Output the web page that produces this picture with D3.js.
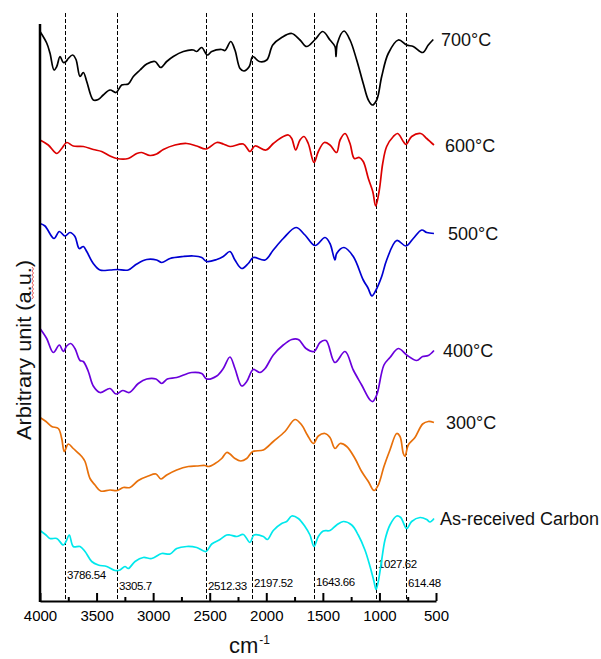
<!DOCTYPE html>
<html>
<head>
<meta charset="utf-8">
<script src="https://cdn.jsdelivr.net/npm/d3@7"></script>
<style>
  html, body { margin: 0; padding: 0; background: #fff; }
  svg { display: block; font-family: "Liberation Sans", Arial, sans-serif; }
</style>
</head>
<body>
<svg id="chart" width="601" height="659"></svg>
<script>
// FTIR spectra, stacked with vertical offsets (wavenumber in cm-1, intensity in a.u.)
const seriesNames = ["700°C", "600°C", "500°C", "400°C", "300°C", "As-received Carbon"];

const s700 = [[4000,113.9],[3941,111.6],[3912,109.6],[3876,106.2],[3852,106.9],[3823,108.9],[3794,107.7],[3770,107.9],[3750,108.5],[3711,109.2],[3682,108.3],[3646,104.9],[3617,105.7],[3587,103.9],[3552,101.2],[3529,100.2],[3485,100.3],[3441,101.2],[3381,102.2],[3328,101.7],[3278,103.2],[3220,103.4],[3175,104.9],[3116,106.2],[3057,107.4],[2984,107.9],[2933,106.7],[2880,107.9],[2822,108.9],[2733,109.9],[2645,110.2],[2615,109.9],[2571,110.7],[2521,109.2],[2482,109.9],[2394,110.3],[2365,110.1],[2314,111.9],[2277,110.2],[2232,106.5],[2197,106.0],[2150,106.9],[2120,108.9],[2062,107.9],[1996,108.2],[1943,111.2],[1864,112.7],[1775,113.5],[1702,112.2],[1643,110.9],[1569,112.3],[1501,113.9],[1437,112.2],[1393,110.9],[1384,108.9],[1372,111.5],[1313,114.0],[1260,112.2],[1201,108.2],[1143,103.5],[1098,100.2],[1063,99.2],[1024,100.2],[980,104.9],[922,109.5],[833,112.2],[759,111.2],[701,110.9],[618,109.7],[568,111.2],[524,112.3]];

const s600 = [[4000,92.2],[3927,91.2],[3852,89.5],[3808,90.5],[3764,91.7],[3706,91.0],[3617,90.9],[3529,90.3],[3455,89.9],[3381,89.0],[3322,88.5],[3220,88.5],[3145,89.5],[3101,89.7],[3028,89.1],[2969,89.4],[2910,90.3],[2807,91.2],[2703,91.5],[2615,91.0],[2533,90.4],[2438,91.7],[2380,91.4],[2321,90.9],[2203,91.4],[2144,89.9],[2100,91.0],[2003,90.2],[1938,91.5],[1879,92.5],[1805,93.2],[1775,92.5],[1740,90.2],[1702,92.2],[1667,92.9],[1629,91.5],[1578,87.7],[1540,89.9],[1487,91.7],[1437,91.2],[1378,89.7],[1348,92.2],[1304,93.5],[1260,91.5],[1222,88.5],[1178,88.7],[1143,87.9],[1098,84.5],[1059,81.9],[1033,79.0],[1001,82.2],[971,87.5],[936,90.9],[877,92.9],[839,93.5],[789,91.9],[765,91.3],[715,92.9],[635,93.5],[582,92.5],[518,91.2]];

const s500 = [[4000,75.5],[3956,75.0],[3876,72.5],[3829,73.9],[3779,73.0],[3735,73.7],[3691,72.9],[3653,70.5],[3617,70.9],[3587,69.9],[3529,67.5],[3470,66.2],[3381,66.2],[3317,66.3],[3220,66.2],[3145,67.4],[3057,68.3],[2969,68.2],[2924,67.7],[2851,68.5],[2733,68.9],[2645,69.0],[2571,68.7],[2527,67.9],[2438,68.3],[2380,68.9],[2321,69.9],[2277,68.2],[2217,66.5],[2159,67.5],[2115,68.7],[2011,68.2],[1938,70.2],[1850,72.5],[1737,74.7],[1658,73.2],[1569,71.1],[1481,72.7],[1437,71.5],[1393,68.2],[1378,69.5],[1313,70.7],[1231,68.9],[1143,64.2],[1101,62.6],[1066,61.0],[1030,62.2],[980,64.9],[936,68.2],[847,72.1],[765,71.0],[701,72.5],[626,74.2],[582,73.7],[518,73.5]];

const s400 = [[4000,54.5],[3941,52.5],[3882,49.7],[3829,51.2],[3794,49.9],[3764,51.0],[3729,51.5],[3691,50.5],[3646,48.1],[3617,47.9],[3573,45.9],[3529,43.0],[3470,41.7],[3381,42.5],[3328,41.4],[3269,42.1],[3211,41.7],[3131,43.5],[3057,44.4],[2975,44.4],[2924,43.5],[2875,44.4],[2792,44.7],[2659,45.7],[2571,45.5],[2527,44.4],[2438,45.0],[2380,46.5],[2321,48.8],[2277,46.5],[2217,43.0],[2173,43.9],[2115,46.3],[2056,45.7],[2011,46.5],[1938,49.2],[1850,51.2],[1775,52.3],[1717,52.3],[1649,50.5],[1578,49.9],[1525,51.7],[1472,52.1],[1393,47.7],[1304,49.9],[1231,46.2],[1157,43.2],[1083,40.2],[1059,39.9],[1024,41.2],[960,47.2],[907,48.7],[833,50.5],[759,49.2],[671,48.1],[618,48.9],[568,49.1],[518,50.1]];

const s300 = [[4000,36.7],[3947,35.9],[3897,34.9],[3838,34.5],[3808,32.5],[3785,29.9],[3750,31.4],[3706,30.5],[3631,28.9],[3602,27.9],[3558,24.5],[3514,23.2],[3464,22.0],[3381,22.2],[3317,22.1],[3264,22.7],[3205,22.7],[3131,24.1],[3043,25.0],[2975,25.4],[2931,24.4],[2880,25.2],[2792,26.2],[2689,26.9],[2615,27.0],[2542,27.1],[2512,26.9],[2453,27.5],[2394,28.5],[2350,29.7],[2321,29.4],[2277,28.5],[2226,28.0],[2173,28.5],[2120,29.9],[2026,30.2],[1938,31.9],[1835,33.9],[1746,36.3],[1687,35.2],[1637,33.2],[1584,31.5],[1540,33.0],[1481,33.5],[1437,32.7],[1393,30.5],[1348,31.5],[1289,30.9],[1216,28.5],[1157,25.9],[1098,23.9],[1048,22.1],[1010,23.2],[960,26.9],[907,30.2],[847,33.5],[818,32.9],[789,29.5],[774,28.9],[745,31.2],[686,32.7],[618,35.4],[568,35.9],[518,35.7]];

const sRaw = [[4000,14.1],[3947,13.2],[3912,12.5],[3852,12.5],[3794,11.2],[3770,11.9],[3741,13.2],[3706,10.9],[3646,10.9],[3602,9.9],[3543,7.9],[3485,7.2],[3410,6.9],[3337,6.1],[3293,6.2],[3249,6.9],[3220,6.5],[3160,7.9],[3087,8.7],[3013,8.5],[2924,9.5],[2851,9.4],[2792,10.5],[2703,10.9],[2615,10.7],[2533,9.9],[2482,11.4],[2409,12.3],[2350,13.2],[2321,13.2],[2261,12.9],[2203,13.3],[2144,11.7],[2109,13.2],[2026,12.9],[1991,12.3],[1938,14.1],[1864,15.5],[1820,15.9],[1775,17.0],[1717,16.5],[1658,14.9],[1614,13.2],[1578,10.9],[1540,12.9],[1496,14.0],[1437,14.1],[1378,15.2],[1319,15.9],[1245,15.2],[1187,13.2],[1128,10.2],[1083,6.9],[1048,3.9],[1030,2.3],[1010,3.9],[980,8.2],[951,12.2],[907,15.2],[847,17.0],[812,16.7],[759,14.5],[715,15.9],[641,16.7],[582,16.3],[553,15.8],[518,16.5]];

const seriesData = [s700, s600, s500, s400, s300, sRaw];

// Axis ticks (cm-1)
const xMajorTicks = [4000, 3500, 3000, 2500, 2000, 1500, 1000, 500];
const xMinorTicks = [3750, 3250, 2750, 2250, 1750, 1250, 750];

// Marked band positions (cm-1) and their annotation text
const bandPositions = [3779, 3320, 2530, 2130, 1575, 1028, 763];
const bandLabels = ["3786.54", "3305.7", "2512.33", "2197.52", "1643.66", "1027.62", "614.48"];

// ---- styling / layout ----
const colors = ["#000000", "#dc0000", "#0000d2", "#6a00dc", "#e8700a", "#00e8ec"];
const labelDx = [5, 9, 12, 7, 10, 4];
const bandLabelDy = [579, 590, 590, 587, 586, 568, 587];

const svg = d3.select("#chart");
const x = d3.scaleLinear().domain([4000, 500]).range([40, 436]);
const y = d3.scaleLinear().domain([0, 115.2]).range([601, 25]);

// dashed band markers
svg.append("g").selectAll("line").data(bandPositions).join("line")
  .attr("x1", d => Math.round(x(d)) + 0.5).attr("x2", d => Math.round(x(d)) + 0.5)
  .attr("y1", 13).attr("y2", 601)
  .attr("stroke", "#000").attr("stroke-width", 1)
  .attr("stroke-dasharray", "4,2");

svg.append("g").selectAll("text").data(bandLabels).join("text")
  .attr("x", (d, i) => Math.round(x(bandPositions[i])) + 2)
  .attr("y", (d, i) => bandLabelDy[i])
  .attr("font-size", 11.5)
  .attr("letter-spacing", -0.4)
  .attr("fill", "#000")
  .text(d => d);

// spectra
const line = d3.line()
  .x(d => x(d[0]))
  .y(d => y(d[1]))
  .curve(d3.curveCatmullRom.alpha(0.5));

svg.append("g").selectAll("path").data(seriesData).join("path")
  .attr("d", line)
  .attr("fill", "none")
  .attr("stroke", (d, i) => colors[i])
  .attr("stroke-width", 1.7)
  .attr("stroke-linejoin", "round");

// series labels next to each trace end
svg.append("g").selectAll("text").data(seriesNames).join("text")
  .attr("x", (d, i) => x(500) + labelDx[i])
  .attr("y", (d, i) => y(seriesData[i][seriesData[i].length - 1][1]) + 2)
  .attr("dominant-baseline", "middle")
  .attr("font-size", 18)
  .attr("fill", "#111")
  .text(d => d);

// x axis with major + minor ticks pointing inward
const xAxis = svg.append("g").attr("transform", "translate(0,601)");
xAxis.call(d3.axisBottom(x).tickValues(xMajorTicks).tickSize(-8).tickSizeOuter(0).tickPadding(9).tickFormat(d3.format("d")));
xAxis.selectAll(".tick line").attr("stroke-width", 2);
xAxis.selectAll(".tick text").attr("font-size", 15).attr("font-family", "Liberation Sans, Arial, sans-serif").attr("fill", "#000");
xAxis.select(".domain").attr("stroke-width", 2);

const xMinor = svg.append("g").attr("transform", "translate(0,601)");
xMinor.call(d3.axisBottom(x).tickValues(xMinorTicks).tickSize(-4).tickSizeOuter(0).tickFormat(""));
xMinor.select(".domain").remove();
xMinor.selectAll(".tick line").attr("stroke-width", 2);

// y axis line (no ticks)
svg.append("line")
  .attr("x1", 40).attr("x2", 40).attr("y1", 24).attr("y2", 602)
  .attr("stroke", "#000").attr("stroke-width", 2.5);

// axis titles
const xt = svg.append("text").attr("x", 229).attr("y", 653).attr("font-size", 22).attr("fill", "#111");
xt.append("tspan").text("cm");
xt.append("tspan").attr("font-size", 12).attr("dy", -9).attr("dx", 1).text("-1");

svg.append("text")
  .attr("transform", "translate(31,350) rotate(-90)")
  .attr("text-anchor", "middle")
  .attr("font-size", 21)
  .attr("textLength", 180)
  .attr("lengthAdjust", "spacingAndGlyphs")
  .attr("fill", "#111")
  .text("Arbitrary unit (a.u.)");

// spell-check style wavy underline under "a.u."
const wave = d3.range(0, 17).map(i => [i % 2 ? 33.5 : 32, 267 + i * 2]);
svg.append("path")
  .attr("d", d3.line()(wave))
  .attr("fill", "none").attr("stroke", "#e03030").attr("stroke-width", 0.8);
</script>
</body>
</html>
